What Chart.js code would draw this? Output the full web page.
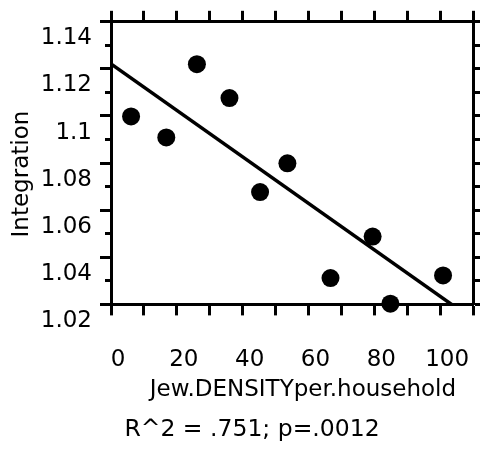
<!DOCTYPE html>
<html>
<head>
<meta charset="utf-8">
<script src="https://cdn.jsdelivr.net/npm/chart.js@4.4.0/dist/chart.umd.min.js"></script>
<style>
  html, body { margin: 0; padding: 0; background: #fff; }
  #chart { display: block; }
</style>
</head>
<body>
<canvas id="chart" width="504" height="451"></canvas>
<script>
// values
const densityValues = [6.1, 16.8, 26.1, 36.0, 45.3, 53.6, 66.7, 79.5, 84.9, 100.9];
const integrationValues = [1.1098, 1.1009, 1.1320, 1.1176, 1.0777, 1.0899, 1.0412, 1.0588, 1.0303, 1.0423];

// regression line end points
const fitX = [0, 103.5];
const fitY = [1.1321, 1.0300];

const xTickValues = [0, 10, 20, 30, 40, 50, 60, 70, 80, 90, 100, 110];
const xTickLabels = ['0', '20', '40', '60', '80', '100'];
const yTickValues = [1.02, 1.03, 1.04, 1.05, 1.06, 1.07, 1.08, 1.09, 1.10, 1.11, 1.12, 1.13, 1.14, 1.15];
const yTickLabels = ['1.02', '1.04', '1.06', '1.08', '1.1', '1.12', '1.14'];

const xTitle = 'Jew.DENSITYper.household';
const yTitle = 'Integration';
const statsText = 'R^2 = .751; p=.0012';

const FONT = 'DejaVu Sans';
const black = '#000';
const Y_MIN = 1.03, Y_MAX = 1.15;

const points = densityValues.map((x, i) => ({ x: x, y: integrationValues[i] }));
const fitLine = fitX.map((x, i) => ({ x: x, y: fitY[i] }));

const hundredths = v => Math.round(v * 100);

const frameGrid = (len) => ({
    drawOnChartArea: false,
    drawTicks: true,
    tickLength: len,
    tickWidth: 3,
    tickColor: black
});
const frameBorder = { display: true, color: black, width: 3 };

new Chart(document.getElementById('chart').getContext('2d'), {
    type: 'scatter',
    data: {
        datasets: [
            {
                type: 'line',
                data: fitLine,
                borderColor: black,
                borderWidth: 3.5,
                pointRadius: 0,
                fill: false
            },
            {
                data: points,
                backgroundColor: black,
                borderWidth: 0,
                pointRadius: 9,
                pointHoverRadius: 9,
                clip: false
            }
        ]
    },
    options: {
        responsive: false,
        animation: false,
        layout: { padding: 0 },
        plugins: {
            legend: { display: false },
            tooltip: { enabled: false },
            title: {
                display: true,
                position: 'bottom',
                text: statsText,
                color: black,
                font: { family: FONT, size: 23.5, weight: 'normal' },
                padding: { top: 0, bottom: 7 }
            }
        },
        scales: {
            x: {
                type: 'linear',
                position: 'bottom',
                min: 0,
                max: 110,
                afterBuildTicks: s => { s.ticks = xTickValues.map(v => ({ value: v })); },
                afterFit: s => { s.height = 111.4; },
                ticks: {
                    autoSkip: false,
                    maxRotation: 0,
                    padding: 31,
                    labelOffset: 7,
                    color: black,
                    font: { family: FONT, size: 23 },
                    callback: v => xTickLabels.includes(String(v)) ? String(v) : ''
                },
                grid: frameGrid(11),
                border: frameBorder,
                title: {
                    display: true,
                    text: '   ' + xTitle,
                    color: black,
                    font: { family: FONT, size: 23 },
                    padding: { top: 0, bottom: 11.6 }
                }
            },
            xTop: {
                type: 'linear',
                position: 'top',
                min: 0,
                max: 110,
                afterBuildTicks: s => { s.ticks = xTickValues.map(v => ({ value: v })); },
                afterFit: s => { s.height = 16; },
                ticks: { display: false },
                grid: frameGrid(11),
                border: frameBorder
            },
            y: {
                type: 'linear',
                position: 'left',
                min: Y_MIN,
                max: Y_MAX,
                afterBuildTicks: s => { s.ticks = yTickValues.map(v => ({ value: v })); },
                afterFit: s => { s.width = 111; },
                ticks: {
                    autoSkip: false,
                    padding: 8,
                    labelOffset: -7,
                    color: black,
                    font: { family: FONT, size: 23 },
                    callback: v => {
                        const s = String(Number(v.toFixed(2)));
                        return yTickLabels.includes(s) ? s : '';
                    }
                },
                grid: Object.assign(frameGrid(11), {
                    // no mark for the label that sits below the frame
                    tickColor: c => (c.tick && c.tick.value < Y_MIN - 1e-9) ? 'rgba(0,0,0,0)' : black,
                    // labelled ticks are the short ones
                    tickBorderDash: c => (c.tick && hundredths(c.tick.value) % 2 === 0) ? [0, 5, 20] : []
                }),
                border: frameBorder,
                title: {
                    display: true,
                    text: yTitle + '   ',
                    color: black,
                    font: { family: FONT, size: 23 },
                    padding: { top: 8, bottom: 0 }
                }
            },
            yRight: {
                type: 'linear',
                position: 'right',
                min: Y_MIN,
                max: Y_MAX,
                afterBuildTicks: s => { s.ticks = yTickValues.filter(v => v >= Y_MIN).map(v => ({ value: v })); },
                afterFit: s => { s.width = 9; },
                ticks: { display: false },
                grid: frameGrid(7),
                border: frameBorder
            }
        }
    }
});
</script>
</body>
</html>
